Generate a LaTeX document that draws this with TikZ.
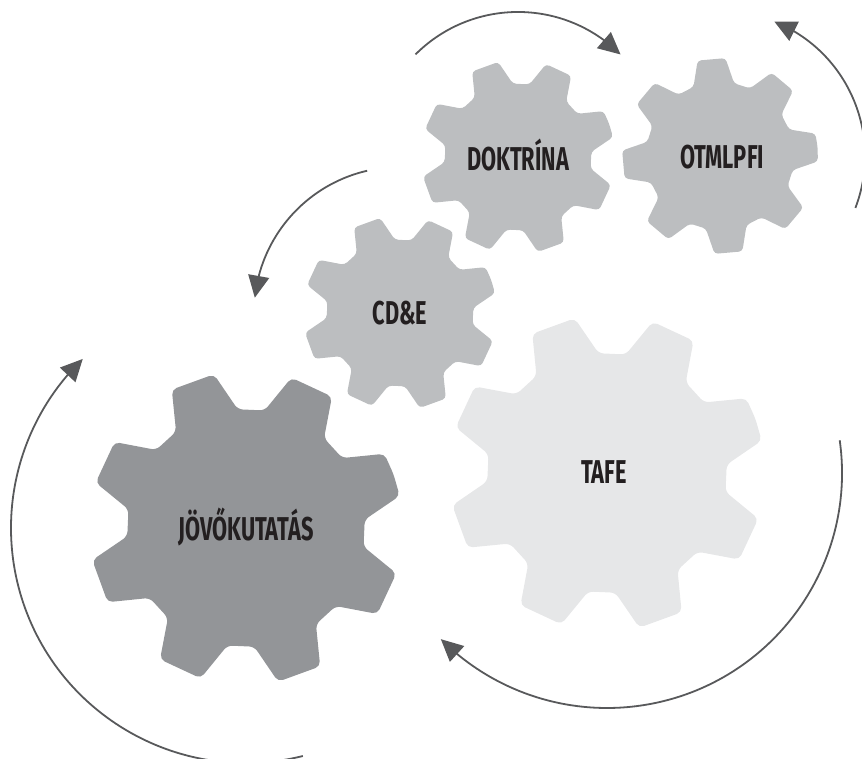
\documentclass[tikz,border=0pt]{standalone}
\usepackage{fontspec}
\newfontfamily\gearfont{Fira Sans}[FakeStretch=0.66]
\usetikzlibrary{arrows.meta,bending,calc}
\definecolor{gdark}{HTML}{939598}
\definecolor{gmid}{HTML}{BCBEC0}
\definecolor{glight}{HTML}{E6E7E8}
\definecolor{arrowgray}{HTML}{58595B}
\definecolor{txtcol}{HTML}{231F20}
% #1 center, #2 R, #3 r, #4 rotation, #5 colour, #6 corner radius
\newcommand{\mygear}[6]{%
  \begin{scope}[shift={(#1)}]
  \fill[#5, rounded corners=#6] (#4:#2pt)
    \foreach \i in {0,...,7}{
      -- ({#4+45*\i+8.2}:#2pt) -- ({#4+45*\i+16}:#3pt)
      -- ({#4+45*\i+29}:#3pt) -- ({#4+45*\i+36.8}:#2pt)
    } -- cycle;
  \end{scope}}
\tikzset{
  gtext/.style={font=\gearfont\bfseries\fontsize{33}{33}\selectfont, text=txtcol, inner sep=0pt},
  cyc/.style={draw=arrowgray, line width=1.8pt, -{Triangle[length=22pt,width=21pt]}}
}
\begin{document}
\begin{tikzpicture}[x=1pt,y=1pt]
\useasboundingbox (0,0) rectangle (862,759);
\mygear{246,231}{157}{119}{20}{gdark}{5pt}
\mygear{607,286}{158}{120}{20}{glight}{5pt}
\mygear{400,446}{97}{73.5}{20}{gmid}{3.5pt}
\mygear{518,602}{97}{73.5}{20}{gmid}{3.5pt}
\mygear{720,603}{98}{74}{5}{gmid}{3.5pt}
\node[gtext] (jov) at (246,232) {JÖVŐKUTATÁS};
\node[gtext] (tafe) at (604,287) {TAFE};
\node[gtext] (cde) at (400,446) {CD\&E};
\node[gtext] (dok) at (518,604) {DOKTRÍNA};
\node[gtext] (otm) at (722,602) {OTMLPFI};
\coordinate (cjov) at (246,231);
\coordinate (ctafe) at (607,286);
\coordinate (ccde) at (400,446);
\coordinate (cdok) at (518,602);
\coordinate (cotm) at (720,603);
\draw[cyc] ($(cdok)+(135:145pt)$) arc[start angle=135, end angle=45, radius=145pt];
\draw[cyc] ($(cotm)+(-21:145pt)$) arc[start angle=-21, end angle=68, radius=145pt];
\draw[cyc] ($(ccde)+(103:146pt)$) arc[start angle=103, end angle=174, radius=146pt];
\draw[cyc] ($(cjov)+(-76:235pt)$) arc[start angle=-76, end angle=-226, radius=235pt];
\draw[cyc] ($(ctafe)+(8:235pt)$) arc[start angle=8, end angle=-135, radius=235pt];
\end{tikzpicture}
\end{document}
